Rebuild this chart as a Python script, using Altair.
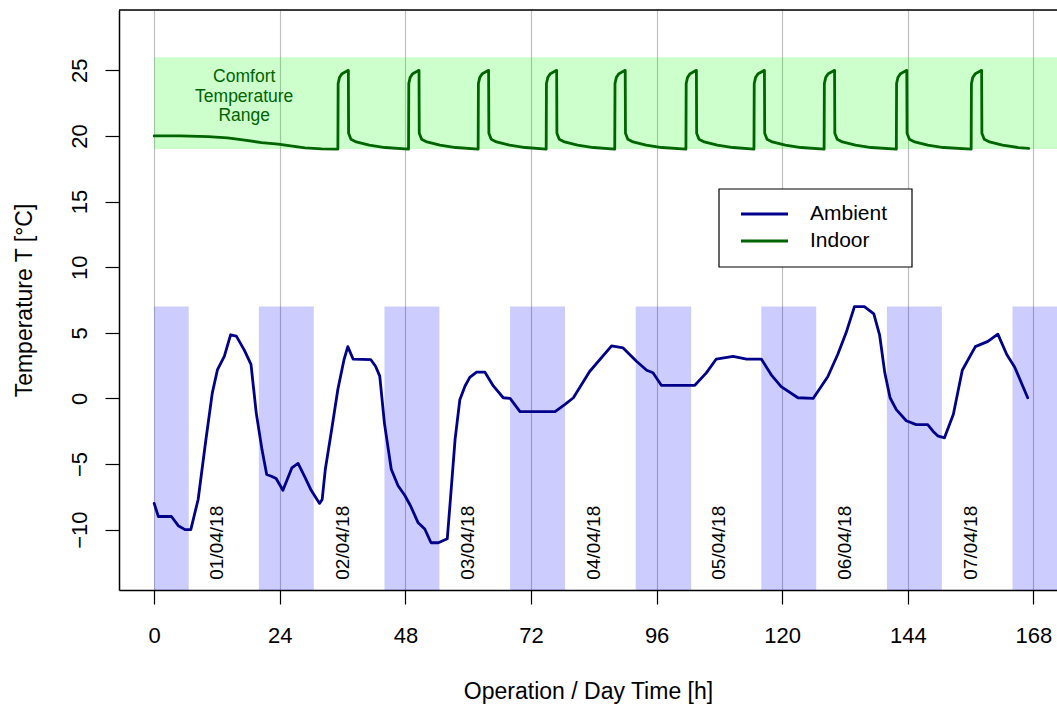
import altair as alt
import pandas as pd

FONT = "Liberation Sans"

# ---- axis ticks ----
hours_ticks = [0, 24, 48, 72, 96, 120, 144, 168]
temp_ticks = [-10, -5, 0, 5, 10, 15, 20, 25]

# ---- ambient temperature ----
ambient_h = [0, 0.8, 3.3, 4.6, 5.9, 7.0, 8.4, 9.8, 11.1, 12.1, 13.4, 14.6, 15.7, 17.2, 18.5,
             19.5, 20.6, 21.5, 22.5, 23.3, 24.6, 26.3, 27.5, 28.8, 30.0, 31.6, 32.1, 32.7, 33.9,
             35.1, 36.3, 37.0, 38.0, 41.4, 42.3, 43.1, 44.0, 45.3, 46.6, 47.9, 49.0, 50.4, 51.7,
             52.9, 54.3, 56.0, 56.5, 57.5, 58.4, 59.4, 60.3, 61.6, 63.2, 64.8, 66.7, 68.0, 69.9,
             76.6, 78.5, 80.1, 83.2, 87.4, 89.6, 92.1, 94.1, 95.3, 96.9, 103.3, 105.5, 107.4,
             110.6, 113.2, 116.0, 117.9, 119.8, 123.0, 125.9, 128.7, 130.6, 132.2, 133.8, 135.7,
             137.5, 138.6, 139.6, 140.6, 141.8, 143.7, 145.6, 147.8, 148.8, 149.7, 151.0, 152.7,
             154.4, 156.9, 159.3, 161.2, 162.9, 164.4, 166.9]
ambient_t = [-8.0, -9.0, -9.0, -9.7, -10.0, -10.0, -7.7, -3.4, 0.4, 2.2, 3.2, 4.85, 4.75, 3.7, 2.6,
             -1.1, -3.9, -5.8, -5.95, -6.1, -7.0, -5.3, -4.95, -6.0, -7.0, -8.0, -7.7, -5.4, -2.4,
             0.7, 3.0, 3.95, 3.0, 2.95, 2.45, 1.7, -1.9, -5.4, -6.65, -7.4, -8.2, -9.45, -9.95,
             -11.0, -11.0, -10.7, -8.2, -3.1, -0.1, 0.95, 1.6, 2.0, 2.0, 0.95, 0.05, 0.0, -1.0,
             -1.0, -0.45, 0.05, 2.05, 4.0, 3.85, 2.85, 2.15, 1.95, 1.0, 1.0, 1.95, 3.0,
             3.2, 3.0, 3.0, 1.8, 0.9, 0.05, 0.0, 1.65, 3.35, 5.0, 7.0, 7.0,
             6.45, 4.85, 1.95, 0.05, -0.85, -1.7, -2.0, -2.0, -2.5, -2.85, -3.0, -1.2,
             2.15, 3.95, 4.35, 4.9, 3.35, 2.4, 0.05]

# ---- indoor temperature ----
indoor_h = [0, 5, 10.3, 14, 17.3, 20.5, 23.7, 28.8, 32, 35.1,
            35.15, 35.4, 35.9, 37.1, 37.15, 37.6, 38.6, 41.1, 44.1, 48.6,
            48.65, 48.9, 49.4, 50.6, 50.65, 51.1, 52.1, 54.6, 57.6, 61.9,
            61.95, 62.2, 62.7, 63.9, 63.95, 64.4, 65.4, 67.9, 70.9, 74.9,
            74.95, 75.2, 75.7, 76.9, 76.95, 77.4, 78.4, 80.9, 83.9, 88.0,
            88.05, 88.3, 88.8, 90.0, 90.05, 90.5, 91.5, 94.0, 97.0, 101.6,
            101.65, 101.9, 102.4, 103.6, 103.65, 104.1, 105.1, 107.6, 110.6, 114.6,
            114.65, 114.9, 115.4, 116.6, 116.65, 117.1, 118.1, 120.6, 123.6, 128.0,
            128.05, 128.3, 128.8, 130.0, 130.05, 130.5, 131.5, 134.0, 137.0, 141.8,
            141.85, 142.1, 142.6, 143.8, 143.85, 144.3, 145.3, 147.8, 150.8, 156.1,
            156.15, 156.4, 156.9, 158.1, 158.15, 158.6, 159.6, 162.1, 165.1, 167.1]
indoor_t = [20.0, 20.0, 19.95, 19.85, 19.68, 19.5, 19.38, 19.1, 19.02, 19.0,
            24.0, 24.45, 24.75, 25.0, 20.2, 19.75, 19.55, 19.3, 19.12, 19.0,
            24.0, 24.45, 24.75, 25.0, 20.2, 19.75, 19.55, 19.3, 19.12, 19.0,
            24.0, 24.45, 24.75, 25.0, 20.2, 19.75, 19.55, 19.3, 19.12, 19.0,
            24.0, 24.45, 24.75, 25.0, 20.2, 19.75, 19.55, 19.3, 19.12, 19.0,
            24.0, 24.45, 24.75, 25.0, 20.2, 19.75, 19.55, 19.3, 19.12, 19.0,
            24.0, 24.45, 24.75, 25.0, 20.2, 19.75, 19.55, 19.3, 19.12, 19.0,
            24.0, 24.45, 24.75, 25.0, 20.2, 19.75, 19.55, 19.3, 19.12, 19.0,
            24.0, 24.45, 24.75, 25.0, 20.2, 19.75, 19.55, 19.3, 19.12, 19.0,
            24.0, 24.45, 24.75, 25.0, 20.2, 19.75, 19.55, 19.3, 19.12, 19.0,
            24.0, 24.45, 24.75, 25.0, 20.2, 19.75, 19.55, 19.3, 19.12, 19.05]

# ---- night shading ----
night_start = [0, 20, 44, 68, 92, 116, 140, 164]
night_end = [6.6, 30.5, 54.5, 78.5, 102.6, 126.5, 150.5, 174.5]
night_low = [-16] * 8
night_high = [7] * 8

# ---- comfort range ----
comfort_start = [0]
comfort_end = [180]
comfort_low = [19]
comfort_high = [26]
comfort_label_x = [17.2]
comfort_label_y = [23]

# ---- date labels ----
date_h = [12, 36, 60, 84, 108, 132, 156]
date_y = [-11] * 7
date_labels = ["01/04/18", "02/04/18", "03/04/18", "04/04/18", "05/04/18", "06/04/18", "07/04/18"]

series_names = ["Ambient", "Indoor"]
series_colors = ["#00008B", "#006400"]

# ---- tables ----
lines_df = pd.concat([
    pd.DataFrame({"h": ambient_h, "T": ambient_t, "series": "Ambient"}),
    pd.DataFrame({"h": indoor_h, "T": indoor_t, "series": "Indoor"}),
])
night_df = pd.DataFrame({"x": night_start, "x2": night_end, "y": night_low, "y2": night_high})
comfort_df = pd.DataFrame({"x": comfort_start, "x2": comfort_end, "y": comfort_low, "y2": comfort_high})
comfort_lbl_df = pd.DataFrame({"x": comfort_label_x, "y": comfort_label_y})
date_df = pd.DataFrame({"x": date_h, "y": date_y, "label": date_labels})

W, H = 938, 580
xs = alt.Scale(domain=[-6.72, 172.5], nice=False, zero=False)
ys = alt.Scale(domain=[-14.6, 29.6], nice=False, zero=False)

x_axis = alt.Axis(values=hours_ticks, title="Operation / Day Time [h]", grid=True,
                  gridColor="#BEBEBE", gridWidth=1.2, domainColor="black", domainWidth=1.5,
                  tickColor="black", tickWidth=1.2, tickSize=14, labelPadding=21,
                  labelFontSize=22, labelFont=FONT, labelColor="black", labelFlush=False,
                  labelOverlap=False, titleFontSize=23, titleFont=FONT, titleFontWeight="normal",
                  titleColor="black", titleBaseline="alphabetic", titleY=108)
y_axis = alt.Axis(values=temp_ticks, title="Temperature T [°C]", grid=False,
                  domainColor="black", domainWidth=1.5, tickColor="black", tickWidth=1.2,
                  tickSize=14, labelAngle=270, labelAlign="center", labelBaseline="bottom",
                  labelPadding=14, labelFontSize=22, labelFont=FONT, labelColor="black",
                  labelFlush=False, labelOverlap=False, titleFontSize=23, titleFont=FONT,
                  titleFontWeight="normal", titleColor="black", titleAngle=270,
                  titleBaseline="alphabetic", titleAlign="center", titleX=-88, titleY=290)


def X(f):
    return alt.X(f, type="quantitative", scale=xs, axis=x_axis)


def Y(f):
    return alt.Y(f, type="quantitative", scale=ys, axis=y_axis)


comfort = alt.Chart(comfort_df).mark_rect(color="#00FF00", opacity=0.2, clip=True).encode(
    x=X("x"), x2="x2", y=Y("y"), y2="y2")
night = alt.Chart(night_df).mark_rect(color="#0000FF", opacity=0.2, clip=True).encode(
    x=X("x"), x2="x2", y=Y("y"), y2="y2")
lines = alt.Chart(lines_df).mark_line(strokeWidth=2.8, strokeJoin="round", strokeCap="round",
                                      clip=True).encode(
    x=X("h"), y=Y("T"),
    color=alt.Color("series:N", scale=alt.Scale(domain=series_names, range=series_colors), legend=None))
comfort_text = alt.Chart(comfort_lbl_df).mark_text(
    text=["Comfort", "Temperature", "Range"], font=FONT, fontSize=17.5, lineHeight=19.5, dy=-19.5,
    color="#006400", align="center", baseline="middle").encode(x=X("x"), y=Y("y"))
dates = alt.Chart(date_df).mark_text(font=FONT, fontSize=19, angle=270, align="center",
                                     baseline="middle", color="black").encode(
    x=X("x"), y=Y("y"), text="label:N")

# legend (box, keys, labels)
leg_box = alt.Chart().mark_rect(fill="white", stroke="black", strokeWidth=1.2).encode(
    x=alt.value(600), x2=alt.value(793), y=alt.value(179), y2=alt.value(257))
leg_items = []
for i, (name, col) in enumerate(zip(series_names, series_colors)):
    yy = 204 + 27 * i
    leg_items.append(alt.Chart().mark_rule(color=col, strokeWidth=2.8).encode(
        x=alt.value(622), x2=alt.value(669), y=alt.value(yy)))
    leg_items.append(alt.Chart().mark_text(text=name, font=FONT, fontSize=21, align="left",
                                           baseline="middle", color="black").encode(
        x=alt.value(691), y=alt.value(yy)))

top_border = alt.Chart().mark_rule(color="black", strokeWidth=1.5).encode(
    x=alt.value(0), x2=alt.value(W), y=alt.value(0))

chart = alt.layer(comfort, night, lines, comfort_text, dates, leg_box, *leg_items, top_border).properties(
    width=W, height=H,
    autosize=alt.AutoSizeParams(type="none"),
    padding={"left": 119, "top": 10, "right": 0, "bottom": 114},
).configure_view(stroke=None).configure(background="white")

chart.save("out.html", embed_options={"renderer": "svg", "actions": False})
